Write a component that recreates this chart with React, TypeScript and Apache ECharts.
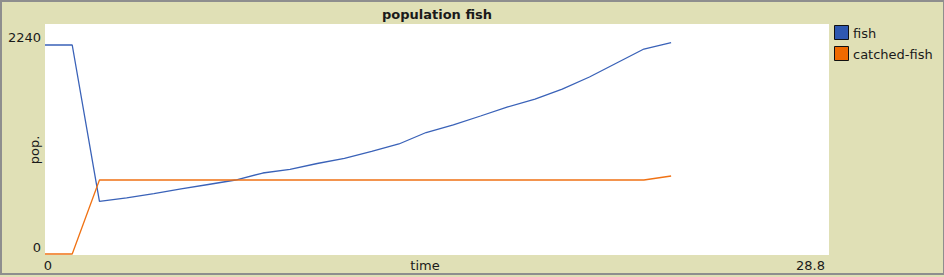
import React, { useEffect, useRef } from "react";
import * as echarts from "echarts";

const times = [0, 1, 2, 3, 4, 5, 6, 7, 8, 9, 10, 11, 12, 13, 14, 15, 16, 17, 18, 19, 20, 21, 22, 23];
const fish = [2240, 2240, 563, 602, 646, 697, 745, 793, 868, 908, 970, 1026, 1099, 1179, 1302, 1383, 1479, 1576, 1661, 1768, 1897, 2047, 2197, 2265];
const catchedFish = [0, 0, 793, 793, 793, 793, 793, 793, 793, 793, 793, 793, 793, 793, 793, 793, 793, 793, 793, 793, 793, 793, 793, 836];
const xTickLabels = ["0", "28.8"];
const yTickLabels = ["0", "2240"];
const seriesNames = ["fish", "catched-fish"];
const seriesColors = ["#3A62B8", "#F07214"];
const legendFill = ["#2F58B0", "#F06A00"];

const W = 944;
const H = 277;
const FONT = "DejaVu Sans";

export default function App() {
  const ref = useRef<HTMLDivElement>(null);
  useEffect(() => {
    if (!ref.current) return;
    const chart = echarts.init(ref.current, undefined, { renderer: "svg", width: W, height: H });
    const toPairs = (vals: number[]) => vals.map((v, i) => [times[i], v]);
    const plotL = 45, plotR = 829, plotT = 24, plotB = 255;
    const textBase = { fontFamily: FONT, fontSize: 13, fill: "#1a1a1a" };
    chart.setOption({
      animation: false,
      backgroundColor: "#E0E0B6",
      grid: { left: 45, right: W - 829, top: 45, bottom: H - 254 },
      xAxis: { type: "value", min: 0, max: 28.8, show: false },
      yAxis: { type: "value", min: 0, max: 2240, show: false },
      series: [
        {
          name: seriesNames[0],
          type: "line",
          data: toPairs(fish),
          symbol: "none",
          clip: false,
          lineStyle: { color: seriesColors[0], width: 1.3 },
          z: 3,
        },
        {
          name: seriesNames[1],
          type: "line",
          data: toPairs(catchedFish),
          symbol: "none",
          clip: false,
          lineStyle: { color: seriesColors[1], width: 1.3 },
          z: 4,
        },
      ],
      graphic: [
        { type: "rect", z: -10, shape: { x: 1, y: 1, width: W - 1, height: 273 }, style: { fill: "#E0E0B6", stroke: "#8E8E8E", lineWidth: 2 } },
        { type: "rect", z: -9, shape: { x: plotL, y: plotT, width: plotR - plotL, height: plotB - plotT }, style: { fill: "#FFFFFF" } },
        { type: "text", z: 5, x: 437, y: 14, style: { ...textBase, text: "population fish", fontWeight: "bold", align: "center", verticalAlign: "middle" } },
        { type: "text", z: 5, x: 41, y: 37, style: { ...textBase, text: yTickLabels[1], align: "right", verticalAlign: "middle" } },
        { type: "text", z: 5, x: 41, y: 247, style: { ...textBase, text: yTickLabels[0], align: "right", verticalAlign: "middle" } },
        { type: "text", z: 5, x: 48, y: 265, style: { ...textBase, text: xTickLabels[0], align: "center", verticalAlign: "middle" } },
        { type: "text", z: 5, x: 825, y: 265, style: { ...textBase, text: xTickLabels[1], align: "right", verticalAlign: "middle" } },
        { type: "text", z: 5, x: 425, y: 265, style: { ...textBase, text: "time", align: "center", verticalAlign: "middle" } },
        { type: "text", z: 5, x: 34, y: 150, rotation: Math.PI / 2, style: { ...textBase, text: "pop.", align: "center", verticalAlign: "middle" } },
        { type: "rect", z: 5, shape: { x: 834.5, y: 25.5, width: 14, height: 14 }, style: { fill: legendFill[0], stroke: "#111", lineWidth: 1 } },
        { type: "text", z: 5, x: 853, y: 33, style: { ...textBase, text: seriesNames[0], align: "left", verticalAlign: "middle" } },
        { type: "rect", z: 5, shape: { x: 834.5, y: 46.5, width: 14, height: 14 }, style: { fill: legendFill[1], stroke: "#111", lineWidth: 1 } },
        { type: "text", z: 5, x: 853, y: 54, style: { ...textBase, text: seriesNames[1], align: "left", verticalAlign: "middle" } },
      ],
    });
    return () => chart.dispose();
  }, []);
  return <div ref={ref} style={{ position: "fixed", left: 0, top: 0, width: W, height: H }} />;
}
